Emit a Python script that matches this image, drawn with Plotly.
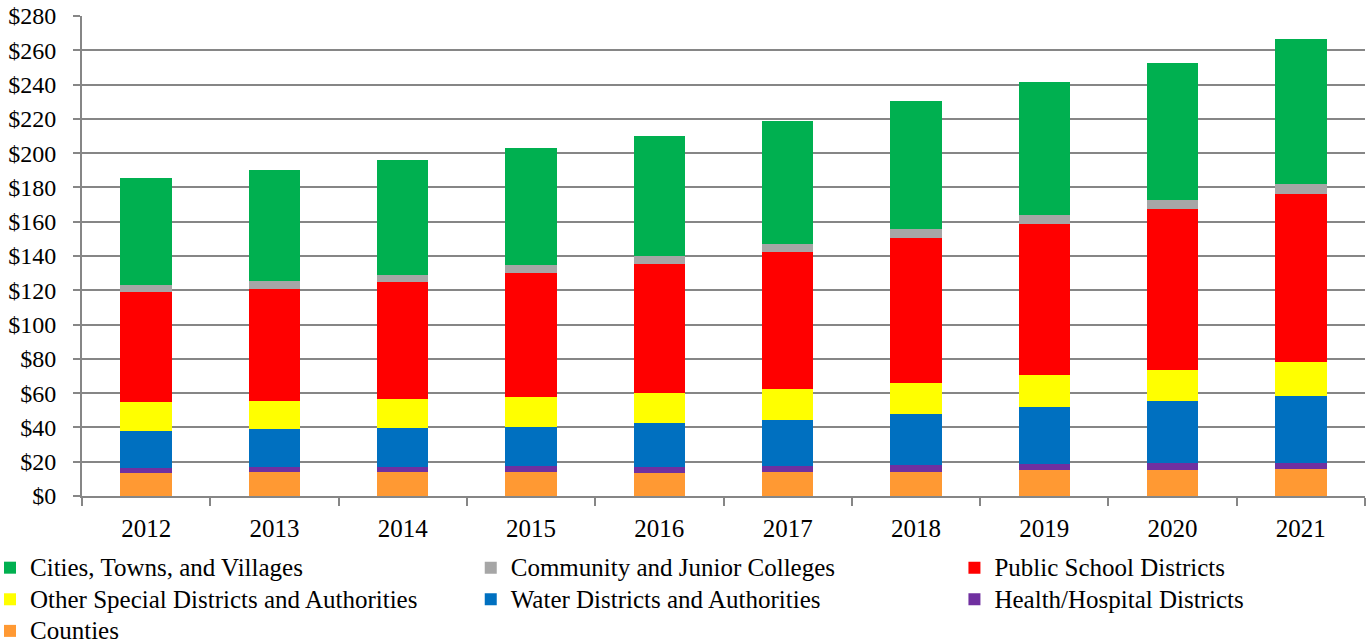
import plotly.graph_objects as go

years = ["2012", "2013", "2014", "2015", "2016", "2017", "2018", "2019", "2020", "2021"]

counties = [13.4, 13.8, 13.8, 13.8, 13.6, 14.0, 14.2, 14.9, 15.3, 15.5]
health = [2.9, 3.1, 3.1, 3.5, 3.3, 3.3, 3.7, 3.5, 3.7, 3.7]
water = [21.6, 22.0, 22.8, 23.0, 25.5, 26.8, 29.9, 33.3, 36.4, 39.3]
other_special = [16.9, 16.7, 17.1, 17.5, 17.7, 18.3, 18.1, 18.9, 17.9, 19.8]
schools = [64.2, 65.2, 67.8, 72.3, 75.0, 79.7, 84.4, 87.8, 94.1, 97.6]
colleges = [3.9, 4.4, 4.5, 4.4, 4.7, 5.1, 5.2, 5.3, 5.4, 6.3]
cities = [62.6, 65.2, 66.9, 68.5, 70.0, 71.6, 75.1, 77.8, 80.0, 84.2]

# (name, values, colour, legend column, rank within column)
series = [
    ("Counties", counties, "#FF9933", "legend", 3),
    ("Health/Hospital Districts", health, "#7030A0", "legend3", 2),
    ("Water Districts and Authorities", water, "#0070C0", "legend2", 2),
    ("Other Special Districts and Authorities", other_special, "#FFFF00", "legend", 2),
    ("Public School Districts", schools, "#FF0000", "legend3", 1),
    ("Community and Junior Colleges", colleges, "#A6A6A6", "legend2", 1),
    ("Cities, Towns, and Villages", cities, "#00B050", "legend", 1),
]

FONT = "Liberation Serif"
LEG_FONT = dict(family=FONT, size=22, color="#000000")

fig = go.Figure()
for name, vals, color, leg, rank in series:
    fig.add_trace(go.Bar(
        x=years, y=vals,
        name="<span style='font-size:25px'>" + name + "</span>",
        legend=leg, legendrank=rank,
        marker=dict(color=color, line=dict(width=0)),
        width=0.4,
        hovertemplate=name + "<br>%{x}: $%{y}<extra></extra>",
    ))

leg_common = dict(
    orientation="v", xanchor="left",
    y=-0.106, yanchor="top",
    font=LEG_FONT, itemwidth=30, tracegroupgap=0, traceorder="normal",
    bgcolor="rgba(0,0,0,0)",
)

fig.update_layout(
    barmode="stack",
    width=1369, height=644,
    margin=dict(l=82, r=4, t=16, b=148, autoexpand=False),
    plot_bgcolor="white", paper_bgcolor="white",
    font=dict(family=FONT, size=24, color="#000000"),
    legend=dict(x=-0.0717, xref="paper", **leg_common),
    legend2=dict(x=0.303, xref="paper", **leg_common),
    legend3=dict(x=0.680, xref="paper", **leg_common),
    xaxis=dict(
        showline=True, linecolor="#868686", linewidth=2,
        ticks="outside", tickson="boundaries", ticklen=8, tickcolor="#868686", tickwidth=2,
        showgrid=False, ticklabelstandoff=9,
        tickfont=dict(family=FONT, size=25),
    ),
    yaxis=dict(
        range=[0, 280], dtick=20, tickprefix="$",
        showline=True, linecolor="#868686", linewidth=2,
        ticks="outside", ticklen=7, tickcolor="#868686", tickwidth=2,
        showgrid=True, gridcolor="#868686", gridwidth=2,
        zeroline=False, ticklabelstandoff=12,
        tickfont=dict(family=FONT, size=24),
    ),
)

fig.write_html("out.html", config={"displayModeBar": False},
               post_script="document.body.style.margin='0';")
